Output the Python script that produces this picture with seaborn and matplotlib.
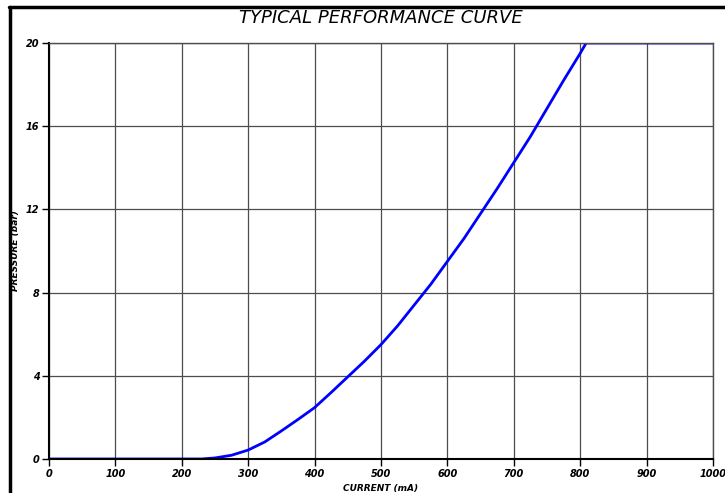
import pandas as pd
import numpy as np
import matplotlib.pyplot as plt
import seaborn as sns
from matplotlib.lines import Line2D


# Datos

corriente = [0, 100, 200, 230, 250, 275, 300, 325, 350, 375, 400, 425, 450,
             475, 500, 525, 550, 575, 600, 625, 650, 675, 700, 725, 750,
             775, 800, 809, 900, 1000]

presion = [0, 0, 0, 0, 0.05, 0.18, 0.43, 0.82, 1.35, 1.9, 2.47, 3.2, 3.95,
           4.7, 5.5, 6.4, 7.4, 8.4, 9.5, 10.6, 11.8, 13.0, 14.25, 15.5,
           16.85, 18.2, 19.5, 20, 20, 20]

ticks_x = [0, 100, 200, 300, 400, 500, 600, 700, 800, 900, 1000]
ticks_y = [0, 4, 8, 12, 16, 20]

dataset = pd.DataFrame({
    "corriente": corriente,
    "presion": presion
})


# Grafica

sns.set_style("white")
plt.rcParams["text.color"] = "black"
plt.rcParams["axes.labelcolor"] = "black"
plt.rcParams["xtick.color"] = "black"
plt.rcParams["ytick.color"] = "black"

fig = plt.figure(figsize=(7.25, 4.93), dpi=100)

ax = fig.add_axes([0.0676, 0.069, 0.9158, 0.8438])

sns.lineplot(
    data=dataset,
    x="corriente",
    y="presion",
    color="#0000ff",
    linewidth=2,
    ax=ax
)

ax.set_xlim(0, 1000)
ax.set_ylim(0, 20)

ax.set_xticks(ticks_x)
ax.set_yticks(ticks_y)

ax.grid(True, color="#4d4d4d", linewidth=0.9)

ax.tick_params(
    axis="both",
    direction="out",
    length=5,
    width=1,
    color="black",
    labelsize=7,
    pad=2,
    left=True,
    bottom=True
)

for lab in ax.get_xticklabels() + ax.get_yticklabels():
    lab.set_fontstyle("italic")
    lab.set_fontweight("bold")

for lado in ["left", "bottom"]:
    ax.spines[lado].set_color("black")
    ax.spines[lado].set_linewidth(1.5)

for lado in ["top", "right"]:
    ax.spines[lado].set_color("#4d4d4d")
    ax.spines[lado].set_linewidth(1)

ax.set_xlabel(
    "CURRENT (mA)",
    fontsize=6.5,
    fontstyle="italic",
    fontweight="bold",
    labelpad=4
)

ax.set_ylabel(
    "PRESSURE (bar)",
    fontsize=6.5,
    fontstyle="italic",
    fontweight="bold",
    labelpad=4.5
)

fig.text(
    0.525, 0.963,
    "TYPICAL PERFORMANCE CURVE",
    ha="center",
    va="center",
    fontsize=13,
    fontstyle="italic",
    color="black"
)

# Marco

fig.add_artist(Line2D([9 / 725, 1], [1 - 7 / 493, 1 - 7 / 493],
                      color="black", linewidth=2.5))
fig.add_artist(Line2D([10 / 725, 10 / 725], [0, 1 - 7 / 493],
                      color="black", linewidth=2.5))

plt.savefig("out.png", dpi=100)
plt.close()
